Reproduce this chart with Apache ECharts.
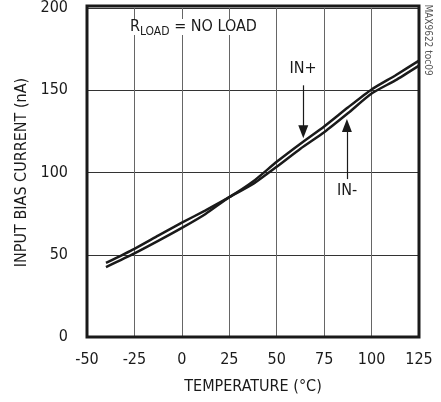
<!DOCTYPE html>
<html>
<head>
<meta charset="utf-8">
<script src="https://cdn.jsdelivr.net/npm/echarts@6/dist/echarts.min.js"></script>
<style>
  html, body { margin: 0; padding: 0; background: #fff; }
  #chart { width: 441px; height: 402px; }
</style>
</head>
<body>
<div id="chart"></div>
<script>
// temperature (°C)
const temps = [-40, -25, -12.5, 0, 12.5, 25, 37.5, 50, 62.5, 75, 87.5, 100, 112.5, 125]
// input bias current (nA)
const inPlus = [45, 53.6, 61.6, 69.5, 77, 85, 94.5, 106.5, 117.5, 128, 139.5, 150.5, 159, 168]
const inMinus = [42.5, 50.8, 58.4, 66.3, 74.8, 85, 93, 103.5, 114.5, 124.5, 136, 148, 156, 165]
const xTicks = [-50, -25, 0, 25, 50, 75, 100, 125]
const yTicks = [0, 50, 100, 150, 200]
// arrow annotations [start, head centre]
const arrowPlus = [[64, 153], [64, 124.8]]
const arrowMinus = [[87, 96], [87, 128.5]]

const font = "'Liberation Sans Narrow', 'DejaVu Sans Condensed', sans-serif"
const ink = '#1a1a1a'

function pairs(xs, ys) {
  return xs.map((x, i) => [x, ys[i]])
}

function arrow(a) {
  return [{ coord: a[0] }, { coord: a[1] }]
}

const chart = echarts.init(document.getElementById('chart'))
chart.setOption({
  animation: false,
  grid: { left: 87, right: 22, top: 6, bottom: 65 },
  xAxis: {
    type: 'value',
    min: xTicks[0],
    max: xTicks[xTicks.length - 1],
    interval: 25,
    name: 'TEMPERATURE (°C)',
    nameLocation: 'middle',
    nameGap: 42,
    nameTextStyle: { fontFamily: font, fontSize: 16, color: ink },
    axisLine: { show: false },
    axisTick: { show: false },
    axisLabel: { margin: 15, fontFamily: font, fontSize: 16, color: ink },
    splitLine: { show: true, lineStyle: { color: '#666', width: 1 } }
  },
  yAxis: {
    type: 'value',
    min: yTicks[0],
    max: yTicks[yTicks.length - 1],
    interval: 50,
    name: 'INPUT BIAS CURRENT (nA)',
    nameLocation: 'middle',
    nameGap: 55,
    nameTextStyle: { fontFamily: font, fontSize: 16, color: ink },
    axisLine: { show: false },
    axisTick: { show: false },
    axisLabel: { margin: 19, fontFamily: font, fontSize: 16, color: ink },
    splitLine: { show: true, lineStyle: { color: '#333', width: 1 } }
  },
  graphic: [
    {
      type: 'rect',
      shape: { x: 87, y: 6, width: 332, height: 331 },
      style: { fill: 'none', stroke: ink, lineWidth: 3 },
      z: 10
    },
    {
      type: 'text',
      left: 130,
      top: 19,
      style: {
        text: '{r|R}{s|LOAD}{r| = NO LOAD}',
        rich: {
          r: { fontFamily: font, fontSize: 16, fill: ink, backgroundColor: '#fff', verticalAlign: 'top' },
          s: { fontFamily: font, fontSize: 12, fill: ink, backgroundColor: '#fff', padding: [7, 0, 0, 0] }
        }
      },
      z: 5
    },
    {
      type: 'text',
      x: 303,
      y: 69,
      style: { text: 'IN+', fontFamily: font, fontSize: 16, fill: ink, align: 'center', verticalAlign: 'middle' }
    },
    {
      type: 'text',
      x: 347,
      y: 191,
      style: { text: 'IN-', fontFamily: font, fontSize: 16, fill: ink, align: 'center', verticalAlign: 'middle' }
    },
    {
      type: 'text',
      x: 428,
      y: 40,
      rotation: -Math.PI / 2,
      style: { text: 'MAX9622 toc09', fontFamily: font, fontSize: 10, fill: '#555', align: 'center', verticalAlign: 'middle' }
    }
  ],
  series: [
    {
      name: 'IN+',
      type: 'line',
      data: pairs(temps, inPlus),
      smooth: 0.2,
      showSymbol: false,
      lineStyle: { color: ink, width: 2.5 },
      markLine: {
        silent: true,
        symbol: ['none', 'triangle'],
        symbolSize: [10, 13],
        label: { show: false },
        lineStyle: { color: ink, width: 1.2, type: 'solid' },
        data: [arrow(arrowPlus), arrow(arrowMinus)]
      }
    },
    {
      name: 'IN-',
      type: 'line',
      data: pairs(temps, inMinus),
      smooth: 0.2,
      showSymbol: false,
      lineStyle: { color: ink, width: 2.5 }
    }
  ]
})
</script>
</body>
</html>
